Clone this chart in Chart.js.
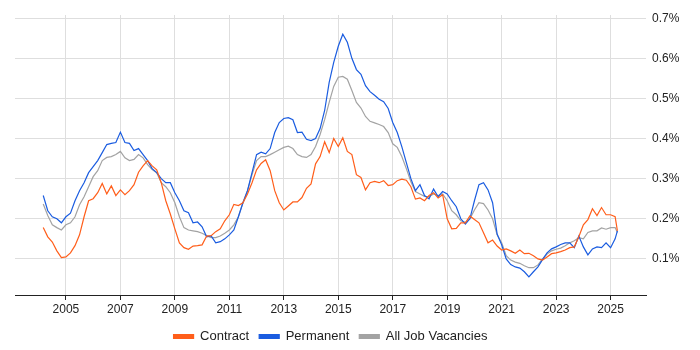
<!DOCTYPE html>
<html>
<head>
<meta charset="utf-8">
<script src="https://cdn.jsdelivr.net/npm/chart.js@4/dist/chart.umd.min.js"></script>
<style>
html,body{margin:0;padding:0;background:#fff;}
#wrap{width:700px;height:350px;position:relative;}
</style>
</head>
<body>
<div id="wrap"><canvas id="c" width="700" height="350"></canvas></div>
<script>
const dates = [
"2004-03","2004-05","2004-07","2004-09","2004-11",
"2005-01","2005-03","2005-05","2005-07","2005-09","2005-11",
"2006-01","2006-03","2006-05","2006-07","2006-09","2006-11",
"2007-01","2007-03","2007-05","2007-07","2007-09","2007-11",
"2008-01","2008-03","2008-05","2008-07","2008-09","2008-11",
"2009-01","2009-03","2009-05","2009-07","2009-09","2009-11",
"2010-01","2010-03","2010-05","2010-07","2010-09","2010-11",
"2011-01","2011-03","2011-05","2011-07","2011-09","2011-11",
"2012-01","2012-03","2012-05","2012-07","2012-09","2012-11",
"2013-01","2013-03","2013-05","2013-07","2013-09","2013-11",
"2014-01","2014-03","2014-05","2014-07","2014-09","2014-11",
"2015-01","2015-03","2015-05","2015-07","2015-09","2015-11",
"2016-01","2016-03","2016-05","2016-07","2016-09","2016-11",
"2017-01","2017-03","2017-05","2017-07","2017-09","2017-11",
"2018-01","2018-03","2018-05","2018-07","2018-09","2018-11",
"2019-01","2019-03","2019-05","2019-07","2019-09","2019-11",
"2020-01","2020-03","2020-05","2020-07","2020-09","2020-11",
"2021-01","2021-03","2021-05","2021-07","2021-09","2021-11",
"2022-01","2022-03","2022-05","2022-07","2022-09","2022-11",
"2023-01","2023-03","2023-05","2023-07","2023-09","2023-11",
"2024-01","2024-03","2024-05","2024-07","2024-09","2024-11",
"2025-01","2025-03","2025-04"
];

const contract = [
0.178,0.155,0.142,0.120,0.103,
0.105,0.115,0.133,0.160,0.205,0.245,
0.250,0.265,0.288,0.262,0.282,0.258,
0.272,0.260,0.270,0.285,0.316,0.332,
0.345,0.332,0.322,0.290,0.245,0.212,
0.175,0.140,0.128,0.124,0.132,0.133,
0.135,0.157,0.158,0.168,0.175,0.195,
0.210,0.236,0.233,0.240,0.262,0.290,
0.322,0.338,0.347,0.320,0.270,0.240,
0.222,0.232,0.242,0.242,0.253,0.276,
0.287,0.337,0.355,0.392,0.365,0.400,
0.380,0.402,0.368,0.360,0.310,0.303,
0.272,0.290,0.293,0.290,0.295,0.283,
0.285,0.295,0.299,0.296,0.280,0.249,
0.252,0.245,0.258,0.265,0.252,0.260,
0.200,0.175,0.176,0.190,0.190,0.207,
0.198,0.190,0.165,0.140,0.147,0.132,
0.122,0.125,0.120,0.114,0.122,0.113,
0.114,0.108,0.100,0.097,0.105,0.113,
0.115,0.118,0.122,0.128,0.130,0.155,
0.185,0.198,0.225,0.208,0.228,0.210,
0.210,0.205,0.170
];

const permanent = [
0.258,0.220,0.205,0.200,0.190,
0.205,0.214,0.245,0.270,0.290,0.315,
0.330,0.345,0.365,0.385,0.388,0.390,
0.416,0.390,0.388,0.370,0.375,0.360,
0.345,0.325,0.315,0.300,0.290,0.290,
0.265,0.245,0.220,0.215,0.190,0.192,
0.180,0.155,0.157,0.140,0.143,0.150,
0.160,0.172,0.205,0.240,0.270,0.315,
0.360,0.366,0.362,0.375,0.415,0.440,
0.450,0.452,0.447,0.415,0.416,0.398,
0.395,0.400,0.425,0.470,0.540,0.590,
0.630,0.660,0.640,0.600,0.572,0.560,
0.532,0.517,0.508,0.498,0.492,0.475,
0.440,0.415,0.380,0.340,0.300,0.270,
0.285,0.258,0.250,0.274,0.255,0.268,
0.262,0.245,0.230,0.200,0.187,0.200,
0.245,0.285,0.290,0.272,0.240,0.162,
0.135,0.100,0.086,0.080,0.077,0.068,
0.055,0.068,0.080,0.098,0.115,0.125,
0.130,0.136,0.140,0.140,0.128,0.157,
0.130,0.110,0.125,0.130,0.128,0.140,
0.128,0.150,0.170
];

const allJobs = [
0.237,0.208,0.185,0.178,0.172,
0.185,0.190,0.205,0.235,0.255,0.280,
0.305,0.320,0.345,0.353,0.355,0.360,
0.368,0.352,0.345,0.348,0.360,0.352,
0.335,0.323,0.315,0.290,0.280,0.265,
0.240,0.205,0.178,0.172,0.170,0.168,
0.164,0.158,0.153,0.153,0.157,0.164,
0.172,0.185,0.205,0.240,0.270,0.310,
0.345,0.355,0.355,0.360,0.366,0.372,
0.378,0.381,0.375,0.360,0.355,0.353,
0.360,0.380,0.410,0.447,0.490,0.530,
0.553,0.555,0.548,0.520,0.490,0.476,
0.455,0.443,0.439,0.435,0.430,0.415,
0.387,0.378,0.355,0.325,0.292,0.268,
0.262,0.256,0.255,0.262,0.258,0.262,
0.245,0.220,0.210,0.195,0.191,0.200,
0.222,0.240,0.238,0.222,0.200,0.160,
0.140,0.108,0.097,0.092,0.089,0.083,
0.078,0.078,0.085,0.100,0.112,0.120,
0.124,0.127,0.133,0.140,0.145,0.153,
0.150,0.166,0.170,0.170,0.177,0.174,
0.178,0.178,0.166
];

const xTickYears = [2005,2007,2009,2011,2013,2015,2017,2019,2021,2023,2025];
const yTickValues = [0.1,0.2,0.3,0.4,0.5,0.6,0.7];
const seriesNames = ["Contract","Permanent","All Job Vacancies"];
const seriesColors = ["#ff5e1a","#1a5ce0","#a3a3a3"];

function toYear(s){ const p = s.split("-"); return +p[0] + (+p[1]-1)/12; }
function pts(arr){ return arr.map((v,i)=>({x:toYear(dates[i]), y:v})); }

const seriesValues = [contract, permanent, allJobs];
const datasets = seriesValues.map((arr,i)=>({
  label: seriesNames[i],
  data: pts(arr),
  borderColor: seriesColors[i],
  backgroundColor: seriesColors[i],
  borderWidth: 1.2,
  pointRadius: 0,
  tension: 0,
  fill: false
}));

const legendShift = {
  id: 'legendShift',
  afterLayout(chart){
    const lg = chart.legend;
    if (!lg) return;
    lg.left = chart.chartArea.left;
    lg.right = chart.chartArea.right;
    lg.top += 3; lg.bottom += 3;
  }
};

new Chart(document.getElementById('c'), {
  type: 'line',
  data: { datasets },
  plugins: [legendShift],
  options: {
    responsive: false,
    animation: false,
    layout: { padding: { left: 15, top: 15, right: 0, bottom: 0 } },
    plugins: {
      legend: {
        position: 'bottom',
        labels: {
          boxWidth: 20, boxHeight: 4, padding: 10,
          color: '#222',
          font: { family: 'Liberation Sans, Arial, sans-serif', size: 13 }
        }
      },
      tooltip: { enabled: false }
    },
    scales: {
      x: {
        type: 'linear',
        min: 2003.13, max: 2026.3,
        afterBuildTicks: s => { s.ticks = xTickYears.map(v=>({value:v})); },
        afterFit: s => { s.height = 22; },
        grid: { color: '#dedede', tickColor: '#222', tickLength: 5, drawOnChartArea: true },
        border: { color: '#222', width: 1 },
        ticks: { color: '#222', padding: 2, maxRotation: 0, autoSkip: false,
          font: { family: 'Liberation Sans, Arial, sans-serif', size: 12 },
          callback: v => String(v) }
      },
      y: {
        position: 'right',
        min: 0.01, max: 0.708,
        afterBuildTicks: s => { s.ticks = yTickValues.map(v=>({value:v})); },
        afterFit: s => { s.width = 54; },
        grid: { color: '#dedede', drawTicks: false },
        border: { display: false },
        ticks: { color: '#222', padding: 6,
          font: { family: 'Liberation Sans, Arial, sans-serif', size: 12 },
          callback: v => v.toFixed(1) + '%' }
      }
    }
  }
});
</script>
</body>
</html>
